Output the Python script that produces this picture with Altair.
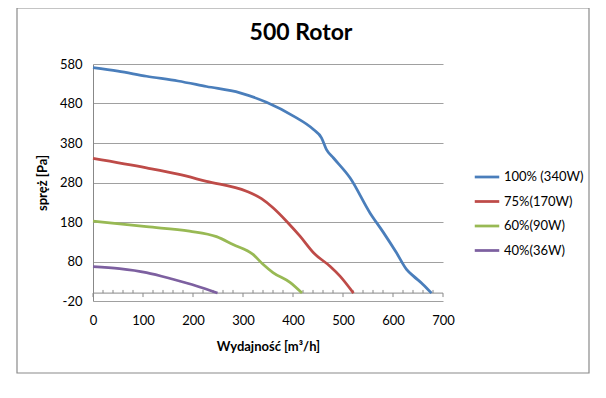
import altair as alt
import pandas as pd

FONT = "Lato"

series_names = ["100% (340W)", "75%(170W)", "60%(90W)", "40%(36W)"]
series_colors = ["#4A7EBB", "#BE4B48", "#98B954", "#7D60A0"]

x_100 = [0, 50, 107, 170, 227, 294, 347, 401, 441, 457, 467, 481, 514, 554, 580, 607, 627, 641, 660, 677]
y_100 = [571, 562, 549, 537, 523, 507, 483, 448, 414, 393, 363, 342, 292, 203, 155, 102, 60, 43, 22, 0]

x_75 = [0, 107, 170, 227, 307, 337, 360, 387, 414, 441, 474, 494, 521]
y_75 = [341, 317, 301, 283, 258, 239, 216, 182, 144, 102, 68, 43, 0]

x_60 = [0, 107, 193, 247, 280, 320, 340, 360, 394, 418]
y_60 = [182, 168, 157, 143, 123, 98, 73, 52, 27, 0]

x_40 = [0, 53, 107, 160, 207, 249]
y_40 = [67, 62, 52, 35, 18, 0]

x_ticks = [0, 100, 200, 300, 400, 500, 600, 700]
x_minor = [v for v in range(0, 701, 20) if v % 100 != 0]
y_ticks = [-20, 80, 180, 280, 380, 480, 580]

rows = []
for name, xs, ys in zip(series_names, [x_100, x_75, x_60, x_40], [y_100, y_75, y_60, y_40]):
    for a, b in zip(xs, ys):
        rows.append({"series": name, "x": a, "y": b})
df = pd.DataFrame(rows)

x_scale = alt.Scale(domain=[0, 700], nice=False, zero=False)
y_scale = alt.Scale(domain=[-20, 580], nice=False, zero=False)

x_axis = alt.Axis(values=x_ticks, title="Wydajność [m³/h]", grid=False, domain=False,
                  ticks=False, labelPadding=13, titlePadding=13, labelFontSize=13,
                  titleFontSize=13, titleFontWeight="bold", labelFlush=False,
                  labelOverlap=False, labelColor="#000", titleColor="#000",
                  labelFont=FONT, titleFont=FONT)
y_axis = alt.Axis(values=y_ticks, title="spręż [Pa]", grid=True, gridColor="#a0a0a0",
                  domain=True, domainColor="#888888", ticks=False, labelPadding=11,
                  titlePadding=10, labelFontSize=13, titleFontSize=13,
                  titleFontWeight="bold", labelColor="#000", titleColor="#000",
                  labelOverlap=False, labelFlush=False,
                  labelExpr="replace(datum.label, '\u2212', '-')",
                  labelFont=FONT, titleFont=FONT)


def X(field):
    return alt.X(field, type="quantitative", scale=x_scale, axis=x_axis)


def Y(field):
    return alt.Y(field, type="quantitative", scale=y_scale, axis=y_axis)


lines = alt.Chart(df).mark_line(strokeWidth=2.75, interpolate="monotone").encode(
    x=X("x"),
    y=Y("y"),
    color=alt.Color("series:N", scale=alt.Scale(domain=series_names, range=series_colors),
                    legend=alt.Legend(title=None, orient="none", legendX=380, legendY=99,
                                      symbolType="stroke", symbolSize=600, symbolStrokeWidth=2.75,
                                      labelFontSize=13, labelFont=FONT, labelColor="#000",
                                      rowPadding=3.5, padding=0, labelOffset=3)),
)

axis_line = alt.Chart(pd.DataFrame({"x": [0], "x2": [700], "y": [0]})).mark_rule(
    color="#888888", strokeWidth=1).encode(x=X("x"), x2="x2:Q", y=Y("y"))

major = alt.Chart(pd.DataFrame({"x": x_ticks, "y": [0] * len(x_ticks), "y2": [-10] * len(x_ticks)})).mark_rule(
    color="#888888", strokeWidth=1).encode(x=X("x"), y=Y("y"), y2="y2:Q")

minor = alt.Chart(pd.DataFrame({"x": x_minor, "y": [0] * len(x_minor), "y2": [8] * len(x_minor)})).mark_rule(
    color="#888888", strokeWidth=1).encode(x=X("x"), y=Y("y"), y2="y2:Q")

one = alt.Data(values=[{"a": 1}])
frame = alt.Chart(one).mark_rect(fillOpacity=0, stroke="#8a8a8a", strokeWidth=1.2).encode(
    x=alt.value(-76), x2=alt.value(496), y=alt.value(-56), y2=alt.value(309))

title = alt.Chart(one).mark_text(text="500 Rotor", fontSize=23, fontWeight="bold", font=FONT,
                                 color="#000").encode(x=alt.value(208), y=alt.value(-31))

chart = alt.layer(frame, axis_line, major, minor, lines, title).properties(
    width=350, height=237,
    autosize=alt.AutoSizeParams(type="none"),
    padding={"left": 85, "top": 56, "right": 155, "bottom": 89},
).configure_view(stroke=None).configure_axis(labelOverlap=False)

chart.save("out.html", embed_options={"renderer": "svg", "actions": False})
